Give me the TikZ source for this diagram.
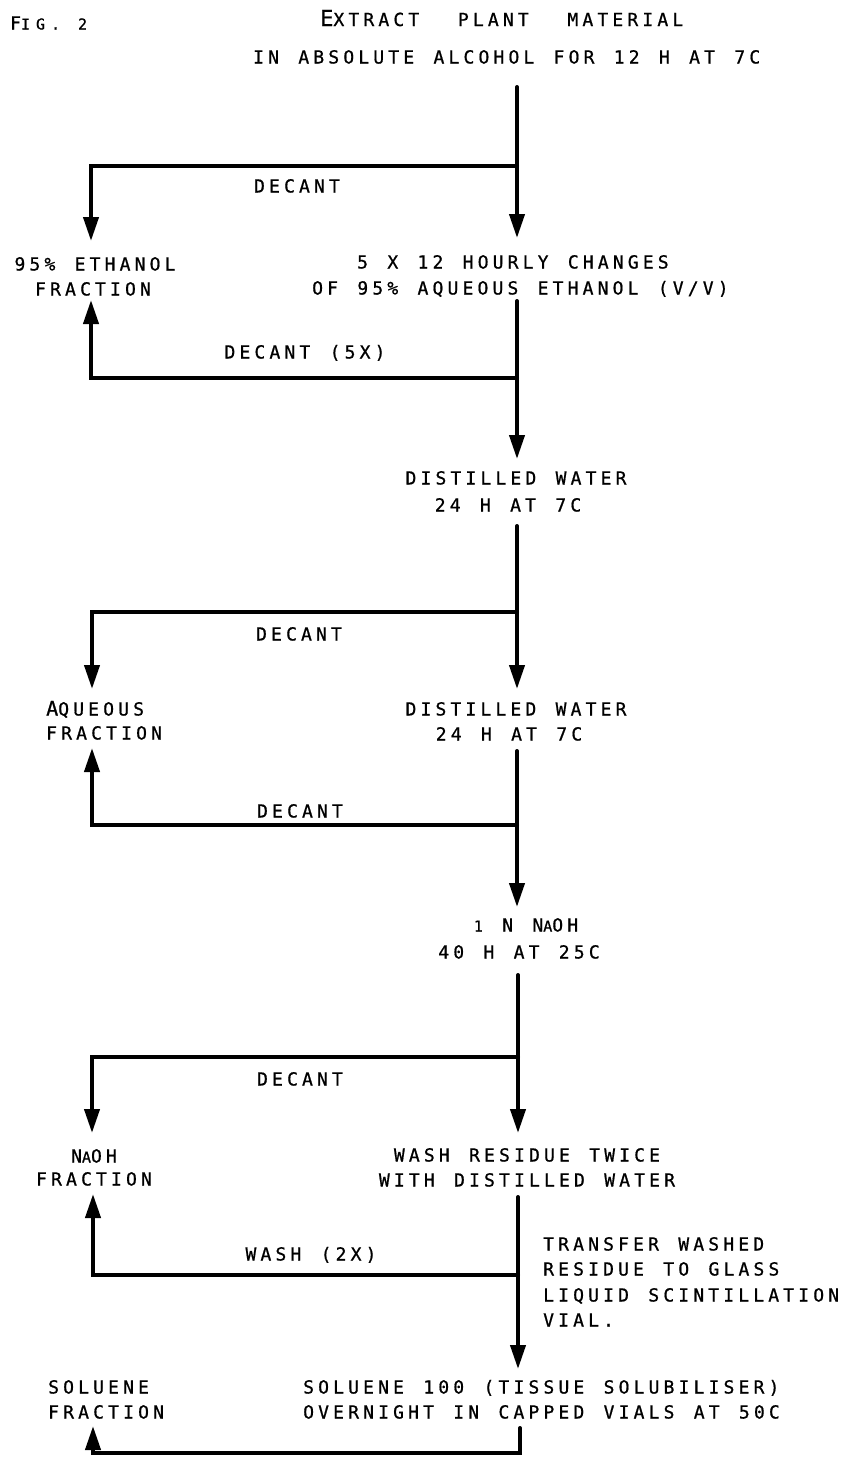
\documentclass[tikz,border=0pt]{standalone}
\usepackage{fontspec}
\usetikzlibrary{arrows.meta}
\newfontfamily\fa[LetterSpace=23.1,WordSpace=1.29,FakeBold=0.8]{DejaVu Sans Mono}
\newfontfamily\fb[LetterSpace=39.8,WordSpace=1.2,FakeBold=0.8]{DejaVu Sans Mono}
\newfontfamily\fc[LetterSpace=10,FakeBold=0.8]{DejaVu Sans Mono}
\newcommand\tsm[1]{{\fontsize{15}{20}\fb #1}}
\newcommand\tbg[2]{{\fontsize{#1}{24}\fc #2}}
\tikzset{
  txt/.style={inner sep=0pt, anchor=base, font=\fontsize{18}{24}\fa},
  txtw/.style={txt, anchor=base west},
  flow/.style={line width=4pt, line cap=round, line join=miter, -{Triangle[length=24pt,width=15pt]}},
}
\begin{document}
\begin{tikzpicture}[x=1pt,y=-1pt]
\fill[white] (0,0) rectangle (842,1457);
\useasboundingbox (0,0) rectangle (842,1457);

% ---------- texts ----------
\node[txtw] (fig) at (10,29.5) {F\tsm{IG. 2}};
\node[txtw] (h1) at (320,26) {\tbg{22}{E}XTRACT\ \ PLANT\ \ MATERIAL};
\node[txtw] (h2) at (253,63.5) {IN ABSOLUTE ALCOHOL FOR 12 H AT 7C};

\node[txt] (d1) at (297,192.5) {DECANT};
\node[txt] (e1) at (95,270.5) {95\% ETHANOL};
\node[txt] (e2) at (93,295.5) {FRACTION};
\node[txtw] (c1) at (357,268.5) {5 X 12 HOURLY CHANGES};
\node[txtw] (c2) at (312,294.5) {OF 95\% AQUEOUS ETHANOL (V/V)};
\node[txt] (d2) at (305,358.5) {DECANT (5X)};

\node[txt] (w1) at (516,484.5) {DISTILLED WATER};
\node[txt] (w2) at (508,511.5) {24 H AT 7C};
\node[txt] (d3) at (299,640.5) {DECANT};
\node[txtw] (a1) at (46,715.5) {\tbg{20}{A}QUEOUS};
\node[txtw] (a2) at (46,739.5) {FRACTION};
\node[txt] (w3) at (516,715.5) {DISTILLED WATER};
\node[txt] (w4) at (509,740.5) {24 H AT 7C};
\node[txt] (d4) at (300,817.5) {DECANT};

\node[txt] (n1) at (526,931.5) {\tsm{1} N N\tsm{A}OH};
\node[txt] (n2) at (519,958.5) {40 H AT 25C};
\node[txt] (d5) at (300,1085.5) {DECANT};
\node[txt] (f1) at (94,1162.5) {N\tsm{A}OH};
\node[txt] (f2) at (94,1185.5) {FRACTION};
\node[txt] (r1) at (527,1161.5) {WASH RESIDUE TWICE};
\node[txt] (r2) at (527,1186.5) {WITH DISTILLED WATER};
\node[txt] (d6) at (311,1260.5) {WASH (2X)};
\node[txtw] (g1) at (543,1250.5) {TRANSFER WASHED};
\node[txtw] (g2) at (543,1275.5) {RESIDUE TO GLASS};
\node[txtw] (g3) at (543,1301.5) {LIQUID SCINTILLATION};
\node[txtw] (g4) at (543,1326.5) {VIAL.};

\node[txtw] (s1) at (48,1393.5) {SOLUENE};
\node[txtw] (s2) at (48,1418.5) {FRACTION};
\node[txtw] (b1) at (303,1393.5) {SOLUENE 100 (TISSUE SOLUBILISER)};
\node[txtw] (b2) at (303,1418.5) {OVERNIGHT IN CAPPED VIALS AT 50C};

% ---------- connector points ----------
\coordinate (p1s) at (517,87);   \coordinate (p1t) at (517,238);
\coordinate (p1j) at (517,166);  \coordinate (p1k) at (91,166);  \coordinate (p1u) at (91,241);
\coordinate (p2s) at (517,301);  \coordinate (p2t) at (517,459);
\coordinate (p2j) at (517,378);  \coordinate (p2k) at (91,378);  \coordinate (p2u) at (91,300);
\coordinate (p3s) at (517,526);  \coordinate (p3t) at (517,689);
\coordinate (p3j) at (517,612);  \coordinate (p3k) at (92,612);  \coordinate (p3u) at (92,689);
\coordinate (p4s) at (517,751);  \coordinate (p4t) at (517,907);
\coordinate (p4j) at (517,825);  \coordinate (p4k) at (92,825);  \coordinate (p4u) at (92,748);
\coordinate (p5s) at (518,975);  \coordinate (p5t) at (518,1133);
\coordinate (p5j) at (518,1057); \coordinate (p5k) at (92,1057); \coordinate (p5u) at (92,1133);
\coordinate (p6s) at (518,1197); \coordinate (p6t) at (518,1369);
\coordinate (p6j) at (518,1275); \coordinate (p6k) at (93,1275); \coordinate (p6u) at (93,1194);
\coordinate (p7s) at (520,1428); \coordinate (p7j) at (520,1453);
\coordinate (p7k) at (93,1453);  \coordinate (p7u) at (93,1426);

% ---------- connectors ----------
\draw[flow] (p1s) -- (p1t);
\draw[flow] (p1j) -- (p1k) -- (p1u);
\draw[flow] (p2s) -- (p2t);
\draw[flow] (p2j) -- (p2k) -- (p2u);
\draw[flow] (p3s) -- (p3t);
\draw[flow] (p3j) -- (p3k) -- (p3u);
\draw[flow] (p4s) -- (p4t);
\draw[flow] (p4j) -- (p4k) -- (p4u);
\draw[flow] (p5s) -- (p5t);
\draw[flow] (p5j) -- (p5k) -- (p5u);
\draw[flow] (p6s) -- (p6t);
\draw[flow] (p6j) -- (p6k) -- (p6u);
\draw[flow] (p7s) -- (p7j) -- (p7k) -- (p7u);
\end{tikzpicture}
\end{document}
